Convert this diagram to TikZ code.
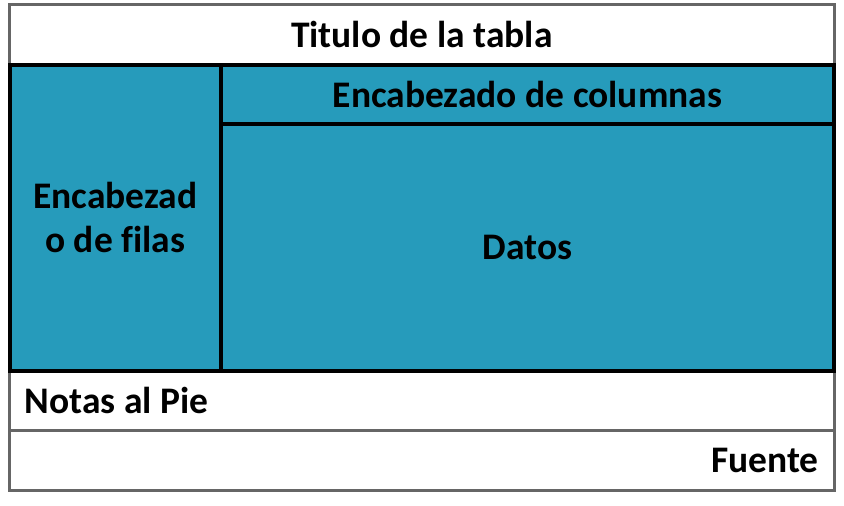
\documentclass[tikz,border=0pt]{standalone}
\usepackage{fontspec}
\setmainfont{Carlito}[Ligatures=NoCommon]
\usepackage{tikz}
\usetikzlibrary{positioning,calc}

\definecolor{celdaazul}{RGB}{38,155,187}
\definecolor{bordegris}{RGB}{102,102,102}

\tikzset{
	celda/.style={rectangle, inner sep=0pt, outer sep=0pt, font=\fontsize{37.5}{44}\selectfont\bfseries},
	celdablanca/.style={celda, fill=white, draw=bordegris, line width=3pt},
	celdaazul/.style={celda, fill=celdaazul, draw=black, line width=4pt},
	texto/.style={inner sep=0pt, font=\fontsize{37.5}{44}\selectfont\bfseries},
}

\begin{document}
\begin{tikzpicture}[x=1pt,y=-1pt]
		\useasboundingbox (0,0) rectangle (844,506);
		% filas blancas
		\node[celdablanca, minimum width=824.5pt, minimum height=60pt] (titulo) at (421.75,34.5) {Titulo de la tabla};
		\node[celdablanca, minimum width=824.5pt, minimum height=59.5pt] (notas) at (421.75,400.25) {};
		\node[celdablanca, minimum width=824.5pt, minimum height=60pt] (fuente) at (421.75,460) {};
		% bloque azul
		\node[celdaazul, minimum width=211.5pt, minimum height=306pt, align=center] (filas) at (115.25,217.5) {Encabezad\\o de filas};
		\node[celdaazul, minimum width=613pt, minimum height=59.5pt] (columnas) at (527.5,94.25) {Encabezado de columnas};
		\node[celdaazul, minimum width=613pt, minimum height=246.5pt] (datos) at (527.5,247.25) {Datos};
		
		\node[texto, anchor=west] (notastxt) at ([xshift=15pt]notas.west) {Notas al Pie};
		\node[texto, anchor=east] (fuentetxt) at ([xshift=-15pt]fuente.east) {Fuente};
	\end{tikzpicture}
\end{document}
